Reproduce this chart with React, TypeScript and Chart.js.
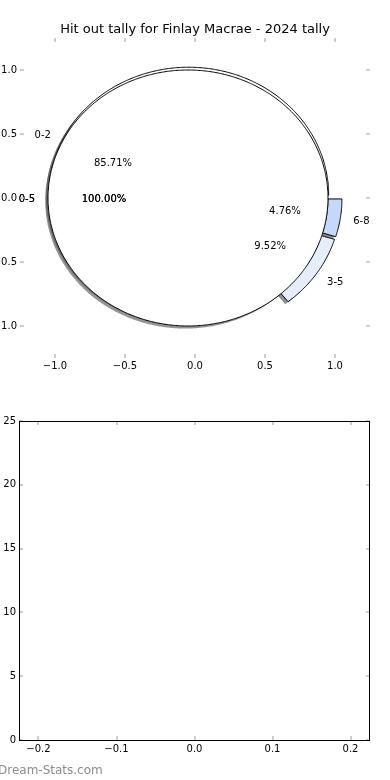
import React, { useEffect, useRef } from "react";
import { Chart, registerables } from "chart.js";
Chart.register(...registerables);

const TITLE = "Hit out tally for Finlay Macrae - 2024 tally";
const discLabels = ["0-5"];
const discCounts = [21];
const discColors = ["#ffffff"];
const ringLabels = ["0-2", "3-5", "6-8"];
const ringCounts = [18, 2, 1];
const ringColors = ["#ffffff", "#e6eefb", "#c5d8fb"];
const pieTicks = [-1, -0.5, 0, 0.5, 1];
const lowerYTicks = [0, 5, 10, 15, 20, 25];
const lowerXTicks = [-0.2, -0.1, 0, 0.1, 0.2];
const WATERMARK = "Dream-Stats.com";

const FONT = "'DejaVu Sans', sans-serif";
const TICK_COLOR = "#bdbdbd";

function fmt1(v: number) {
  const s = Math.abs(v).toFixed(1);
  return v < -1e-9 ? "\u2212" + s : s;
}

function hexRgb(h: string) {
  const n = parseInt(h.slice(1), 16);
  return [(n >> 16) & 255, (n >> 8) & 255, n & 255];
}

function wedgePath(ctx: CanvasRenderingContext2D, xs: any, ys: any, cx: number, cy: number, rOut: number, rIn: number, a1: number, a2: number) {
  const full = Math.abs(a2 - a1 - 360) < 1e-9;
  const steps = Math.max(8, Math.ceil((a2 - a1) / 0.5));
  const P = (r: number, a: number) => {
    const t = (a * Math.PI) / 180;
    return [xs.getPixelForValue(cx + r * Math.cos(t)), ys.getPixelForValue(cy + r * Math.sin(t))];
  };
  ctx.beginPath();
  for (let i = 0; i <= steps; i++) {
    const p = P(rOut, a1 + ((a2 - a1) * i) / steps);
    if (i === 0) ctx.moveTo(p[0], p[1]);
    else ctx.lineTo(p[0], p[1]);
  }
  if (full && rIn <= 0) {
    ctx.closePath();
    return;
  }
  if (rIn > 0) {
    for (let i = steps; i >= 0; i--) {
      const p = P(rIn, a1 + ((a2 - a1) * i) / steps);
      ctx.lineTo(p[0], p[1]);
    }
  } else {
    ctx.lineTo(xs.getPixelForValue(cx), ys.getPixelForValue(cy));
  }
  ctx.closePath();
}

type LabelInfo = { text: string; x: number; y: number; align: CanvasTextAlign; times: number };

function drawPie(ctx: CanvasRenderingContext2D, xs: any, ys: any, counts: number[], colors: string[], labels: string[], radius: number, width: number, explode: number, times: number, out: LabelInfo[]) {
  const total = counts.reduce((a, b) => a + b, 0);
  let start = 0;
  counts.forEach((c, i) => {
    const a1 = start;
    const a2 = start + (360 * c) / total;
    start = a2;
    const mid = (((a1 + a2) / 2) * Math.PI) / 180;
    const cx = explode * Math.cos(mid);
    const cy = explode * Math.sin(mid);
    const rIn = width > 0 ? radius - width : 0;
    const rgb = hexRgb(colors[i]);
    // shadow
    wedgePath(ctx, xs, ys, cx - 0.02, cy - 0.02, radius, rIn, a1, a2);
    ctx.fillStyle = `rgba(${Math.round(rgb[0] * 0.3)},${Math.round(rgb[1] * 0.3)},${Math.round(rgb[2] * 0.3)},0.6)`;
    ctx.fill();
    // wedge
    wedgePath(ctx, xs, ys, cx, cy, radius, rIn, a1, a2);
    ctx.fillStyle = colors[i];
    ctx.fill();
    ctx.strokeStyle = "#000";
    ctx.lineWidth = 1;
    ctx.lineJoin = "miter";
    ctx.stroke();
    const lx = cx + 1.1 * Math.cos(mid);
    const ly = cy + 1.1 * Math.sin(mid);
    out.push({ text: labels[i], x: xs.getPixelForValue(lx), y: ys.getPixelForValue(ly), align: lx > 0 ? "left" : "right", times });
    const pct = ((100 * c) / total).toFixed(2) + "%";
    out.push({ text: pct, x: xs.getPixelForValue(cx + 0.6 * Math.cos(mid)), y: ys.getPixelForValue(cy + 0.6 * Math.sin(mid)), align: "center", times });
  });
}

function drawInnerTicks(ctx: CanvasRenderingContext2D, chart: any, xv: number[], yv: number[]) {
  const { left, right, top, bottom } = chart.chartArea;
  const xs = chart.scales.x;
  const ys = chart.scales.y;
  ctx.save();
  ctx.strokeStyle = TICK_COLOR;
  ctx.lineWidth = 1.5;
  ctx.beginPath();
  xv.forEach((v) => {
    const px = Math.round(xs.getPixelForValue(v));
    ctx.moveTo(px, top);
    ctx.lineTo(px, top + 4);
    ctx.moveTo(px, bottom);
    ctx.lineTo(px, bottom - 4);
  });
  yv.forEach((v) => {
    const py = Math.round(ys.getPixelForValue(v));
    ctx.moveTo(left, py);
    ctx.lineTo(left + 4, py);
    ctx.moveTo(right, py);
    ctx.lineTo(right - 4, py);
  });
  ctx.stroke();
  ctx.restore();
}

const piePlugin = {
  id: "pieOverlay",
  afterDatasetsDraw(chart: any) {
    const ctx: CanvasRenderingContext2D = chart.ctx;
    const xs = chart.scales.x;
    const ys = chart.scales.y;
    const labels: LabelInfo[] = [];
    ctx.save();
    drawPie(ctx, xs, ys, ringCounts, ringColors, ringLabels, 1, 0.1, 0.05, 1, labels);
    drawPie(ctx, xs, ys, discCounts, discColors, discLabels, 1, 0, 0.05, 2, labels);
    ctx.fillStyle = "#000";
    ctx.font = `10px ${FONT}`;
    ctx.textBaseline = "middle";
    labels.forEach((l) => {
      ctx.textAlign = l.align;
      for (let k = 0; k < l.times; k++) ctx.fillText(l.text, l.x - (l.align === "right" ? -1 : l.align === "left" ? 1 : 0), l.y + 1.5);
    });
    ctx.restore();
    drawInnerTicks(ctx, chart, pieTicks, pieTicks);
  },
};

const framePlugin = {
  id: "frameTicks",
  afterDraw(chart: any) {
    const ctx: CanvasRenderingContext2D = chart.ctx;
    drawInnerTicks(ctx, chart, lowerXTicks, lowerYTicks);
    const { left, right, top, bottom } = chart.chartArea;
    ctx.save();
    ctx.strokeStyle = "#000";
    ctx.lineWidth = 1;
    ctx.strokeRect(Math.round(left) + 0.5, Math.round(top) + 0.5, Math.round(right - left) - 1, Math.round(bottom - top));
    ctx.restore();
  },
};

const spacerAxis = {
  type: "linear",
  position: "right",
  display: true,
  grid: { display: false, drawTicks: false },
  border: { display: false },
  ticks: { display: false },
  afterFit: (s: any) => {
    s.width = 20;
  },
};

function App() {
  const topRef = useRef<HTMLCanvasElement>(null);
  const botRef = useRef<HTMLCanvasElement>(null);

  useEffect(() => {
    Chart.defaults.font.family = FONT;
    Chart.defaults.color = "#000";
    const tickFont = { size: 10, family: FONT };
    const top = new Chart(topRef.current!, {
      type: "scatter",
      data: { datasets: [{ data: [] }] },
      options: {
        animation: false,
        responsive: false,
        events: [],
        layout: { padding: { left: 0, right: 0, top: 0, bottom: 0 } },
        plugins: {
          legend: { display: false },
          tooltip: { enabled: false },
          title: {
            display: true,
            text: TITLE,
            color: "#000",
            font: { size: 13, weight: "normal", family: FONT, lineHeight: 1 },
            padding: { top: 23.5, bottom: 1.5 },
          },
        },
        scales: {
          x: {
            type: "linear",
            min: -1.25,
            max: 1.25,
            grid: { display: false, drawTicks: false },
            border: { display: false },
            afterBuildTicks: (s: any) => {
              s.ticks = pieTicks.map((v) => ({ value: v }));
            },
            afterFit: (s: any) => {
              s.height = 32;
            },
            ticks: { font: tickFont, color: "#000", padding: 2, maxRotation: 0, autoSkip: false, callback: (v: any) => fmt1(Number(v)) },
          },
          y: {
            type: "linear",
            min: -1.25,
            max: 1.25,
            grid: { display: false, drawTicks: false },
            border: { display: false },
            afterBuildTicks: (s: any) => {
              s.ticks = pieTicks.map((v) => ({ value: v }));
            },
            afterFit: (s: any) => {
              s.width = 20;
            },
            ticks: { font: tickFont, color: "#000", padding: 3, autoSkip: false, callback: (v: any) => fmt1(Number(v)) },
          },
          yRight: { ...spacerAxis, min: -1.25, max: 1.25 },
        },
      },
      plugins: [piePlugin],
    } as any);

    const bot = new Chart(botRef.current!, {
      type: "scatter",
      data: { datasets: [{ data: [] }] },
      options: {
        animation: false,
        responsive: false,
        events: [],
        layout: { padding: { left: 0, right: 0, top: 31, bottom: 0 } },
        plugins: { legend: { display: false }, tooltip: { enabled: false }, title: { display: false } },
        scales: {
          x: {
            type: "linear",
            min: -0.225,
            max: 0.225,
            grid: { display: false, drawTicks: false },
            border: { display: false },
            afterBuildTicks: (s: any) => {
              s.ticks = lowerXTicks.map((v) => ({ value: v }));
            },
            afterFit: (s: any) => {
              s.height = 40;
            },
            ticks: { font: tickFont, color: "#000", padding: 3, maxRotation: 0, autoSkip: false, callback: (v: any) => fmt1(Number(v)) },
          },
          y: {
            type: "linear",
            min: 0,
            max: 25,
            grid: { display: false, drawTicks: false },
            border: { display: false },
            afterBuildTicks: (s: any) => {
              s.ticks = lowerYTicks.map((v) => ({ value: v }));
            },
            afterFit: (s: any) => {
              s.width = 19;
            },
            ticks: { font: tickFont, color: "#000", padding: 3, autoSkip: false, callback: (v: any) => String(Math.round(Number(v))) },
          },
          yRight: { ...spacerAxis, min: 0, max: 25 },
        },
      },
      plugins: [framePlugin],
    } as any);

    return () => {
      top.destroy();
      bot.destroy();
    };
  }, []);

  return (
    <div style={{ position: "absolute", left: 0, top: 0, width: 390, height: 780, background: "#fff", overflow: "hidden" }}>
      <canvas ref={topRef} width={390} height={390} style={{ position: "absolute", left: 0, top: 0, width: 390, height: 390 }} />
      <canvas ref={botRef} width={390} height={390} style={{ position: "absolute", left: 0, top: 390, width: 390, height: 390 }} />
      <div style={{ position: "absolute", left: -2, top: 763, font: `12px ${FONT}`, color: "#8c8c8c", lineHeight: "15px", whiteSpace: "nowrap" }}>{WATERMARK}</div>
    </div>
  );
}

export default App;
